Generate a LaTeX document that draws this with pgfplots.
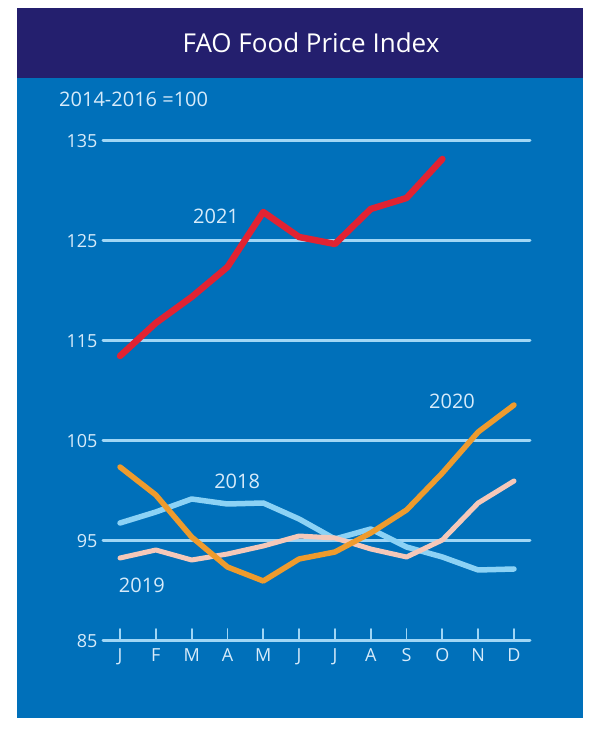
\documentclass[border=0pt]{standalone}
\usepackage{pgfplots}
\pgfplotsset{compat=1.18}
\usepackage{fontspec}
\setmainfont{Open Sans}
\definecolor{bgblue}{RGB}{0,112,186}
\definecolor{navy}{RGB}{36,31,110}
\definecolor{gridblue}{RGB}{160,214,245}
\definecolor{txt}{RGB}{215,235,250}
\definecolor{redA}{RGB}{225,35,50}
\definecolor{orA}{RGB}{238,155,45}
\definecolor{lbA}{RGB}{140,210,245}
\definecolor{pkA}{RGB}{245,200,185}
\begin{document}
\begin{tikzpicture}[x=1pt,y=1pt]
\fill[white] (0,0) rectangle (612,737);
\fill[bgblue] (17,19) rectangle (583,729);
\fill[navy] (17,659) rectangle (583,729);
\node[white, font=\fontsize{26}{30}\selectfont] at (311,694) {FAO Food Price Index};
\node[txt, anchor=base west, inner sep=0pt, font=\fontsize{20}{22}\selectfont] at (59,630) {2014-2016 =100};
\begin{axis}[
  at={(103pt,96pt)}, anchor=south west, scale only axis,
  width=427pt, height=500pt,
  xmin=-0.475, xmax=11.447, ymin=85, ymax=135,
  axis line style={draw=none},
  ytick={85,95,105,115,125,135},
  xtick={0,...,11},
  xticklabels={J,F,M,A,M,J,J,A,S,O,N,D},
  ymajorgrids, grid style={gridblue, line width=3pt},
  tick align=inside, xtick pos=lower,
  ytick style={draw=none},
  xtick style={gridblue, line width=1.8pt},
  major tick length=12pt,
  clip=false,
  /pgf/number format/assume math mode=true,
  tick label style={txt, font=\fontsize{18}{20}\selectfont},
  yticklabel style={xshift=-2pt},
  xticklabel style={yshift=-4pt},
  line join=round, line cap=round,
]
% 2018
\addplot[lbA, line width=5.5pt] coordinates {(0,96.8)(1,97.9)(2,99.2)(3,98.7)(4,98.8)(5,97.2)(6,95.2)(7,96.2)(8,94.4)(9,93.4)(10,92.1)(11,92.2)};
% 2019
\addplot[pkA, line width=5pt] coordinates {(0,93.3)(1,94.1)(2,93.1)(3,93.7)(4,94.5)(5,95.5)(6,95.3)(7,94.2)(8,93.4)(9,95.1)(10,98.8)(11,101.0)};
% 2020
\addplot[orA, line width=5.5pt] coordinates {(0,102.4)(1,99.6)(2,95.4)(3,92.4)(4,91.0)(5,93.2)(6,93.9)(7,95.8)(8,98.1)(9,101.8)(10,105.9)(11,108.6)};
% 2021
\addplot[redA, line width=6.5pt] coordinates {(0,113.5)(1,116.8)(2,119.4)(3,122.4)(4,127.9)(5,125.4)(6,124.7)(7,128.2)(8,129.3)(9,133.2)};
\node[txt, font=\fontsize{20}{22}\selectfont] at (axis cs:2.68,127.5) {2021};
\node[txt, font=\fontsize{20}{22}\selectfont] at (axis cs:3.27,101.0) {2018};
\node[txt, font=\fontsize{20}{22}\selectfont] at (axis cs:0.61,90.6) {2019};
\node[txt, font=\fontsize{20}{22}\selectfont] at (axis cs:9.27,109.0) {2020};
\end{axis}
\end{tikzpicture}
\end{document}
